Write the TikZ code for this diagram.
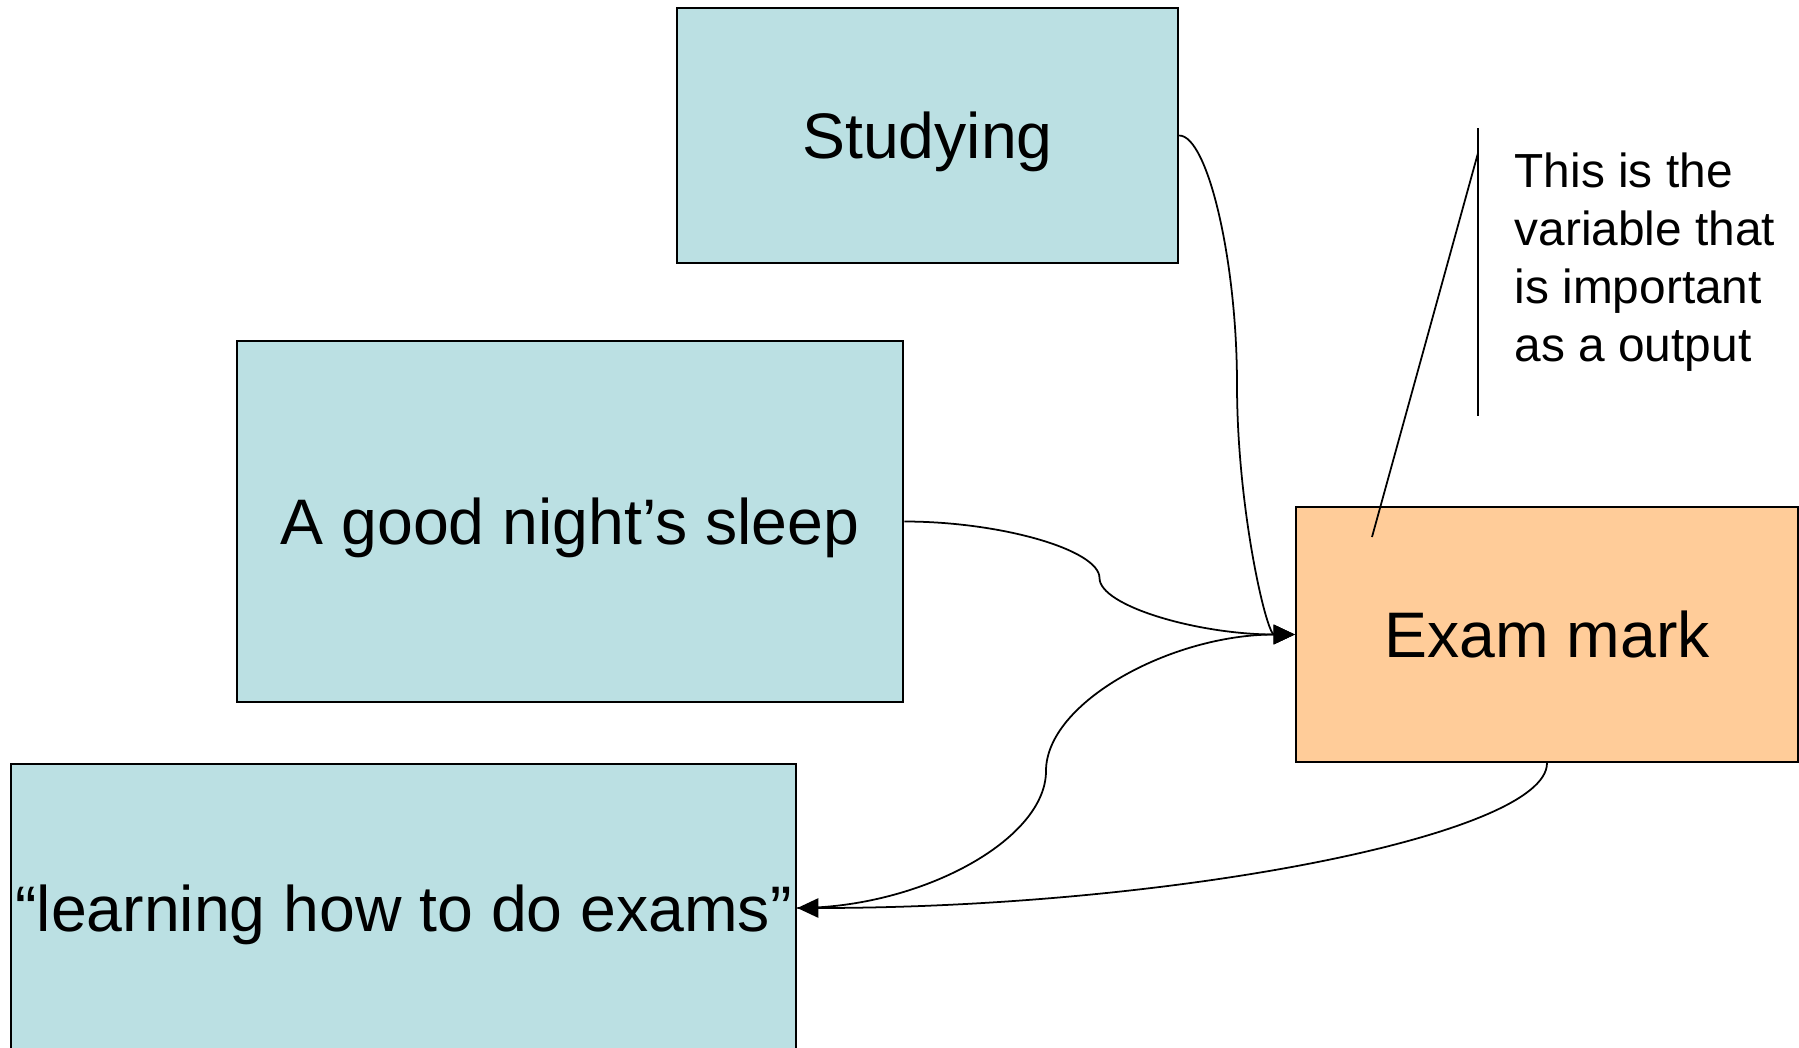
\documentclass[tikz,border=0pt]{standalone}
\usepackage{fontspec}
\setmainfont{Liberation Sans}
\usetikzlibrary{arrows.meta}
\definecolor{boxblue}{HTML}{BBE0E3}
\definecolor{boxorange}{HTML}{FFCC99}
\tikzset{factor/.style={draw=black,fill=boxblue,line width=0.6pt,inner sep=0pt,text depth=0pt,font=\fontsize{18.3}{22}\selectfont},
  result/.style={factor,fill=boxorange},
  link/.style={-{Triangle[length=6pt,width=5.5pt]},line width=0.5pt},
  note/.style={align=left,inner sep=0pt,font=\fontsize{13.6}{16.5}\selectfont}}

\begin{document}
\begin{tikzpicture}[x=0.01cm,y=-0.01cm]
% frame
\useasboundingbox (0,0) rectangle (1799,1048);
% boxes
\node[factor,minimum width=5.01cm,minimum height=2.55cm] (study) at (927.5,135.5) {Studying};
\node[factor,minimum width=6.66cm,minimum height=3.61cm] (sleep) at (570,521.5) {A good night’s sleep};
\node[factor,minimum width=7.85cm,minimum height=2.88cm] (learn) at (403.5,908) {“learning how to do exams”};
\node[result,minimum width=5.02cm,minimum height=2.55cm] (exam) at (1547,634.5) {Exam mark};
% links
\draw[link] (study.east) .. controls (1207.5,135.5) and (1237,260) .. (1237,384.5)
  .. controls (1237,509) and (1266.5,634.5) .. (exam.west);
\draw[link] (sleep.east) .. controls (1001,521.5) and (1099.5,550) .. (1099.5,578)
  .. controls (1099.5,606) and (1198,634.5) .. (exam.west);
\draw[link] (learn.east) .. controls (921,908) and (1046,839.5) .. (1046,771)
  .. controls (1046,702.5) and (1171,634.5) .. (exam.west);
\draw[link] (exam.south) .. controls (1547,835) and (1172,908) .. (learn.east);
% callout
\coordinate (bartop) at (1478,128);
\coordinate (barbot) at (1478,416);
\coordinate (barjoin) at (1478,153);
\coordinate (tip) at (1372,537);
\draw[line width=0.5pt] (bartop) -- (barbot);
\draw[line width=0.5pt] (barjoin) -- (tip);
\node[note,anchor=north west] (remark) at (1514,152) {This is the\\variable that\\is important\\as a output};
\end{tikzpicture}
\end{document}
